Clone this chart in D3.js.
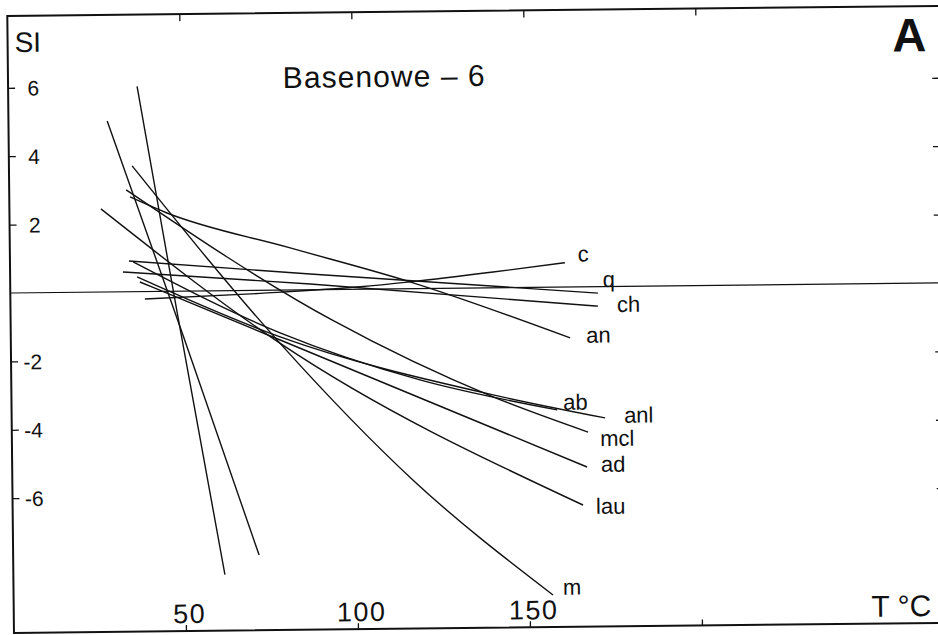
<!DOCTYPE html>
<html><head><meta charset="utf-8">
<script src="https://cdn.jsdelivr.net/npm/d3@7"></script>
<style>
html,body{margin:0;padding:0;background:#fff;}
svg{display:block;}
text{font-family:"Liberation Sans", Arial, Helvetica, sans-serif; fill:#111;}
</style></head><body>
<svg id="chart" width="938" height="635"></svg>
<script>
// ---- data ----
const xTickValues = [50, 100, 150, 200];
const xTickLabels = ["50", "100", "150"];
const yTickValues = [6, 4, 2, -2, -4, -6];
const yTickLabels = ["6", "4", "2", "-2", "-4", "-6"];

const seriesNames = ["c", "q", "ch", "an", "ab", "anl", "mcl", "ad", "lau", "m", "", ""];

const T_c   = [39.1, 72.6, 101.7, 116.2, 140.4, 161.3];
const SI_c  = [-0.22, -0.09, 0.07, 0.20, 0.46, 0.71];
const T_q   = [34.6, 87.2, 170.8];
const SI_q  = [0.90, 0.46, -0.19];
const T_ch  = [32.8, 87.2, 170.8];
const SI_ch = [0.58, 0.17, -0.57];
const T_an  = [35.1, 45.8, 81.5, 116.2, 162.6];
const SI_an = [2.77, 2.29, 1.23, 0.20, -1.49];
const T_ab  = [35.8, 78.3, 118.8, 158.6];
const SI_ab = [0.87, -1.25, -2.67, -3.59];
const T_anl = [36.9, 78.3, 140.0, 172.5];
const SI_anl= [0.43, -1.37, -3.13, -3.84];
const T_mcl = [34.0, 93.4, 140.0, 167.5];
const SI_mcl= [2.98, -0.89, -3.19, -4.25];
const T_ad  = [37.7, 78.3, 167.1];
const SI_ad = [0.28, -1.46, -5.27];
const T_lau = [26.6, 78.2, 165.8];
const SI_lau= [2.43, -1.55, -6.38];
const T_m   = [35.8, 78.2, 116.5, 156.8];
const SI_m  = [3.68, -1.55, -5.60, -9.00];
const T_u1  = [37.5, 48.4, 61.5];
const SI_u1 = [6.0, -0.6, -8.3];
const T_u2  = [28.7, 50.1, 71.5];
const SI_u2 = [5.0, -1.3, -7.74];

const seriesT  = [T_c, T_q, T_ch, T_an, T_ab, T_anl, T_mcl, T_ad, T_lau, T_m, T_u1, T_u2];
const seriesSI = [SI_c, SI_q, SI_ch, SI_an, SI_ab, SI_anl, SI_mcl, SI_ad, SI_lau, SI_m, SI_u1, SI_u2];

// label offsets from series end (layout, not data)
const labelOffsets = {
  c: [13, -1], q: [5, -6], ch: [19, 6], an: [16, 5], ab: [6, 0], anl: [19, 5],
  mcl: [12, 14], ad: [14, 5], lau: [13, 9], m: [10, 0]
};

// ---- layout ----
const ox = 10.3, oy = 293, pxT = 3.44, pxSI = 34.2;
const xDomain = [0, 271], yDomain = [-9.94, 8.1];
const x = d3.scaleLinear().domain(xDomain).range([ox + xDomain[0]*pxT, ox + xDomain[1]*pxT]);
const y = d3.scaleLinear().domain(yDomain).range([oy - yDomain[0]*pxSI, oy - yDomain[1]*pxSI]);

const svg = d3.select("#chart");
const g = svg.append("g").attr("transform", `rotate(-0.62,${ox},${oy})`);
const ink = "#111";

// frame
g.append("rect")
  .attr("x", x(xDomain[0])).attr("y", y(yDomain[1]))
  .attr("width", x(xDomain[1]) - x(xDomain[0]))
  .attr("height", y(yDomain[0]) - y(yDomain[1]))
  .attr("fill", "none").attr("stroke", ink).attr("stroke-width", 2);

// axes ticks (inward)
const styleAxis = sel => { sel.select(".domain").remove(); sel.selectAll("line").attr("stroke", ink).attr("stroke-width", 1.3); };
g.append("g").attr("transform", `translate(${x(0)},0)`)
  .call(d3.axisLeft(y).tickValues(yTickValues).tickSize(-7).tickFormat("")).call(styleAxis);
g.append("g").attr("transform", `translate(${x(xDomain[1])},0)`)
  .call(d3.axisRight(y).tickValues(yTickValues).tickSize(-8).tickFormat("")).call(styleAxis);
g.append("g").attr("transform", `translate(0,${y(yDomain[0])})`)
  .call(d3.axisBottom(x).tickValues(xTickValues).tickSize(-6).tickFormat("")).call(styleAxis);
g.append("g").attr("transform", `translate(0,${y(yDomain[1])})`)
  .call(d3.axisTop(x).tickValues(xTickValues).tickSize(-7).tickFormat("")).call(styleAxis);

// zero line
g.append("line").attr("x1", x(xDomain[0])).attr("x2", x(xDomain[1]))
  .attr("y1", y(0)).attr("y2", y(0)).attr("stroke", ink).attr("stroke-width", 1.2);

// tick labels
g.selectAll(".ylab").data(yTickValues).enter().append("text")
  .attr("x", x(0) + 31).attr("y", d => y(d) + 8)
  .attr("text-anchor", "end").attr("font-size", 21)
  .text((d, i) => yTickLabels[i]);
g.selectAll(".xlab").data(xTickLabels).enter().append("text")
  .attr("x", (d, i) => x(xTickValues[i]) + 4).attr("y", y(yDomain[0]) - 8)
  .attr("text-anchor", "middle").attr("font-size", 27).attr("letter-spacing", 1.5)
  .text(d => d);

// titles
g.append("text").attr("x", x(0) + 7).attr("y", 52).attr("font-size", 28).text("SI");
g.append("text").attr("x", 285).attr("y", 91).attr("font-size", 30)
  .attr("textLength", 202).attr("lengthAdjust", "spacing").text("Basenowe – 6");
g.append("text").attr("x", 895).attr("y", 61).attr("font-size", 47).attr("font-weight", "bold").text("A");
g.append("text").attr("x", 868).attr("y", 626).attr("font-size", 30).text("T °C");

// curves
const line = d3.line().x(d => x(d[0])).y(d => y(d[1])).curve(d3.curveMonotoneX);
seriesNames.forEach((name, i) => {
  const pts = seriesT[i].map((t, j) => [t, seriesSI[i][j]]);
  g.append("path").attr("d", line(pts)).attr("fill", "none")
    .attr("stroke", ink).attr("stroke-width", 1.4);
  if (name) {
    const last = pts[pts.length - 1];
    const off = labelOffsets[name];
    g.append("text").attr("x", x(last[0]) + off[0]).attr("y", y(last[1]) + off[1])
      .attr("font-size", 22).text(name);
  }
});
</script>
</body></html>
